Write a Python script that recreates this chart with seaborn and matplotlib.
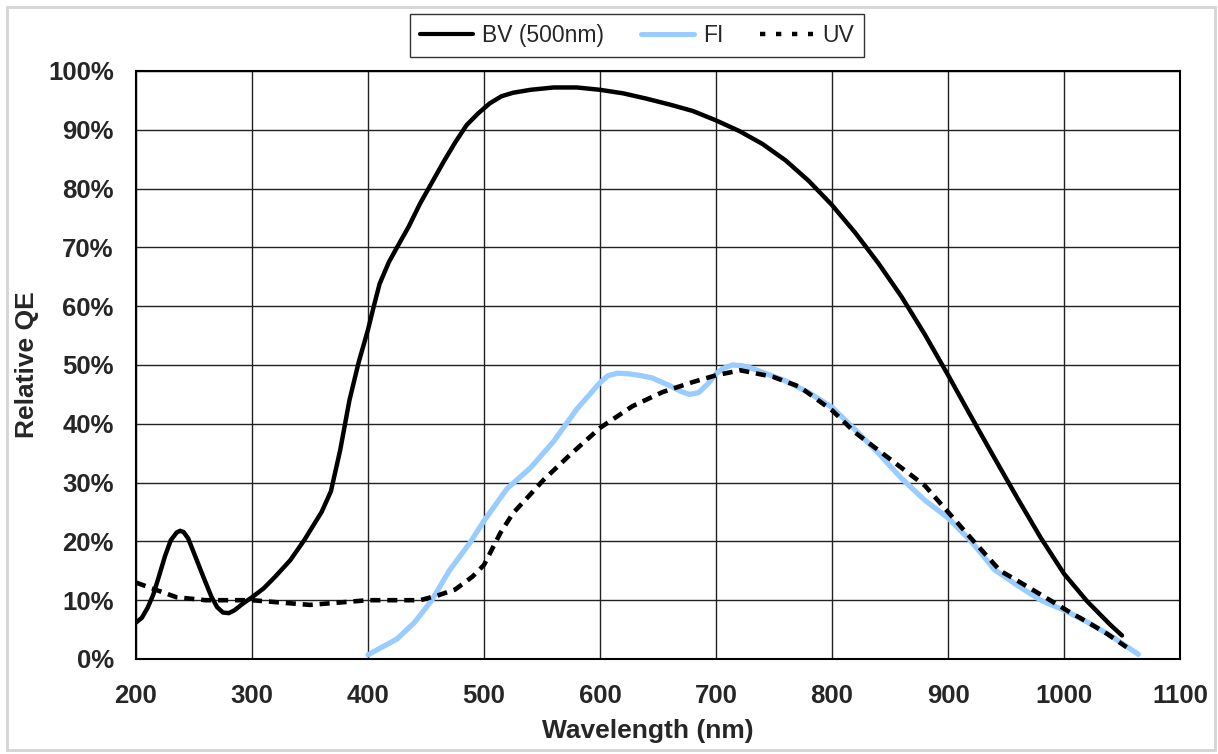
import pandas as pd
import matplotlib.pyplot as plt
import seaborn as sns
from matplotlib.patches import Rectangle
from matplotlib.lines import Line2D
from matplotlib.ticker import PercentFormatter

# ---- data (wavelength nm, relative QE %) ----
bv_nm = [200, 205, 210, 215, 220, 225, 230, 235, 238, 241, 245, 250, 258, 265,
         270, 275, 280, 285, 292, 300, 310, 320, 333, 345, 360, 368, 376, 384,
         392, 400, 405, 410, 418, 425, 435, 445, 455, 465, 475, 485, 495, 505,
         515, 525, 540, 560, 580, 600, 620, 640, 660, 680, 700, 720, 740, 760,
         780, 800, 820, 840, 860, 880, 900, 920, 940, 960, 980, 1000, 1020,
         1040, 1050]
bv_qe = [6.2, 7, 8.7, 11, 14.2, 17.5, 20.2, 21.5, 21.8, 21.6, 20.5, 18, 14, 10.6,
         8.8, 7.9, 7.8, 8.3, 9.4, 10.5, 12, 14, 16.8, 20.2, 25, 28.5, 35.5, 44,
         50.5, 56, 60, 63.8, 67.5, 70, 73.5, 77.5, 81, 84.5, 87.8, 90.8, 92.8, 94.5,
         95.7, 96.3, 96.8, 97.2, 97.2, 96.8, 96.2, 95.3, 94.3, 93.2, 91.6, 89.8, 87.6, 84.8,
         81.3, 77.2, 72.5, 67.3, 61.6, 55.2, 48.3, 41.2, 34.2, 27.3, 20.6, 14.5, 9.8,
         5.8, 4]

fi_nm = [400, 410, 425, 440, 455, 470, 488, 500, 520, 540, 560, 580, 600, 607,
         615, 625, 635, 645, 660, 670, 677, 685, 693, 700, 706, 714, 722, 730,
         760, 780, 800, 820, 840, 860, 880, 900, 920, 940, 960, 980, 1000, 1020,
         1040, 1064]
fi_qe = [0.7, 1.8, 3.4, 6.2, 10, 15, 19.8, 23.5, 29, 32.5, 37, 42.5, 47, 48.2,
         48.6, 48.5, 48.2, 47.8, 46.5, 45.5, 45, 45.3, 46.8, 48.5, 49.4, 50, 49.9, 49.5,
         47.3, 45.3, 42.8, 39, 35, 30.7, 27, 24, 20, 15.2, 12.5, 10, 8.3, 6.3,
         4, 0.8]

uv_nm = [200, 218, 235, 260, 300, 350, 400, 445, 460, 475, 490, 500, 514, 525,
         540, 551, 574, 600, 628, 654, 680, 701, 721, 749, 772, 800, 820, 850,
         880, 900, 920, 945, 960, 988, 1003, 1020, 1037, 1054]
uv_qe = [13, 11.7, 10.5, 10, 10, 9.2, 10, 10, 10.8, 11.8, 14, 16, 21.4, 24.8,
         28, 30.4, 34.7, 39.3, 43, 45.4, 47.1, 48.3, 49.1, 48, 46.3, 42.3, 38.5, 34,
         29.5, 25, 20.5, 15, 13.3, 10, 8.2, 6.3, 4.3, 2]

series_names = ["BV (500nm)", "FI", "UV"]
x_ticks = list(range(200, 1101, 100))
y_ticks = list(range(0, 101, 10))

sns.set_style("white")
plt.rcParams['font.family'] = ['Liberation Sans', 'DejaVu Sans']

fig = plt.figure(figsize=(12.18, 7.54), dpi=100)
ax = fig.add_axes([136 / 1218, 1 - 659 / 754, 1044 / 1218, 588 / 754])

bv = pd.DataFrame({'nm': bv_nm, 'qe': bv_qe})
fi = pd.DataFrame({'nm': fi_nm, 'qe': fi_qe})
uv = pd.DataFrame({'nm': uv_nm, 'qe': uv_qe})

round_join = dict(solid_joinstyle='round', solid_capstyle='round')
sns.lineplot(data=bv, x='nm', y='qe', ax=ax, color='black', lw=3.2, zorder=3, **round_join)
sns.lineplot(data=fi, x='nm', y='qe', ax=ax, color='#99ccff', lw=3.8, zorder=4, **round_join)
sns.lineplot(data=uv, x='nm', y='qe', ax=ax, color='black', lw=3.3,
             linestyle=(0, (2.2, 1.5)), zorder=5)

ax.set_xlim(200, 1100)
ax.set_ylim(0, 100)
ax.set_xticks(x_ticks)
ax.set_yticks(y_ticks)
ax.yaxis.set_major_formatter(PercentFormatter(decimals=0))
ax.grid(True, color='#222222', lw=1)
ax.set_axisbelow(True)
for s in ax.spines.values():
    s.set_color('black')
    s.set_linewidth(1.5)
ax.tick_params(axis='both', direction='out', length=8, width=1, color='black',
               labelsize=18.5)
ax.tick_params(axis='x', pad=10)
ax.tick_params(axis='y', pad=8)
for lab in ax.get_xticklabels() + ax.get_yticklabels():
    lab.set_fontweight('bold')

ax.set_xlabel("Wavelength (nm)", fontsize=19, fontweight='bold')
ax.set_ylabel("Relative QE", fontsize=19, fontweight='bold')
ax.xaxis.set_label_coords(0.49, -0.102)
ax.yaxis.set_label_coords(-0.093, 0.5)

handles = [Line2D([], [], color='black', lw=3),
           Line2D([], [], color='#99ccff', lw=3.6),
           Line2D([], [], color='black', lw=3.2, linestyle=(0, (1.2, 2.4)))]
leg = fig.legend(handles, series_names, loc='center', bbox_to_anchor=(637 / 1218, 1 - 35.5 / 754),
                 ncol=3, fontsize=16.5, frameon=True, fancybox=False, handlelength=2.3,
                 handletextpad=0.4, columnspacing=1.6, borderpad=0.45)
leg.get_frame().set_edgecolor('black')
leg.get_frame().set_linewidth(1)

# light grey chart-area border
fig.patches.append(Rectangle((7 / 1218, 4 / 754), 1208 / 1218, 743 / 754,
                             transform=fig.transFigure, fill=False,
                             edgecolor='#d4d4d4', lw=2))

fig.savefig('out.png', dpi=100)
